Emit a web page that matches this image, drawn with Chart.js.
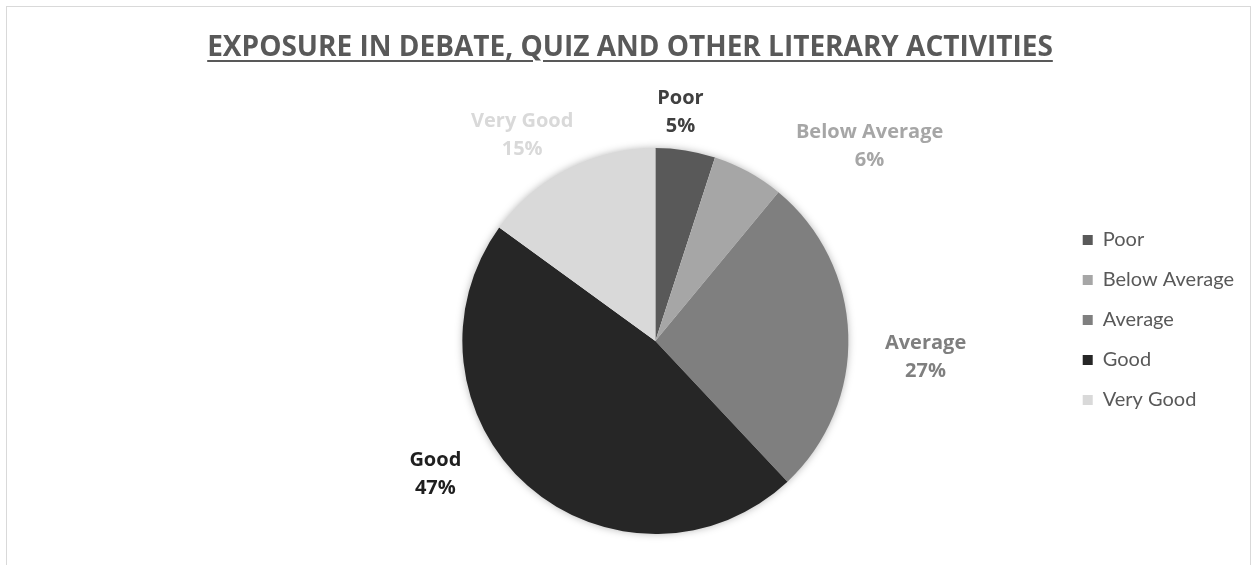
<!DOCTYPE html>
<html>
<head>
<meta charset="utf-8">
<script src="https://cdn.jsdelivr.net/npm/chart.js@4"></script>
<style>
html, body { margin: 0; padding: 0; background: #fff; }
#wrap { position: relative; width: 1252px; height: 565px; overflow: hidden; }
#frame { position: absolute; left: 6px; top: 6px; width: 1243px; height: 620px; border: 1px solid #d9d9d9; }
#title {
    position: absolute; left: 4px; top: 26px; width: 1252px; text-align: center;
    font: bold 28px 'Open Sans', sans-serif; color: #595959;
    text-decoration: underline; text-decoration-thickness: 2px; text-underline-offset: 4px;
}
canvas { position: absolute; left: 0; top: 0; }
</style>
</head>
<body>
<div id="wrap">
    <div id="frame"></div>
    <canvas id="pieChart" width="1252" height="565"></canvas>
    <div id="title">EXPOSURE IN DEBATE, QUIZ AND OTHER LITERARY ACTIVITIES</div>
</div>
<script>
// 차트 데이터
const categories = ['Poor', 'Below Average', 'Average', 'Good', 'Very Good'];
const shares = [5, 6, 27, 47, 15];

// 색상
const sliceColors = ['#595959', '#a6a6a6', '#7f7f7f', '#262626', '#d9d9d9'];
const labelColors = ['#404040', '#a6a6a6', '#7f7f7f', '#1f1f1f', '#d9d9d9'];

// 라벨 위치 (파이 중심 기준, 반지름 단위)
const labelSpots = [[0.13, -1.185], [1.11, -1.01], [1.40, 0.085], [-1.14, 0.69], [-0.69, -1.065]];

// 파이 그림자
const shadowPlugin = {
    id: 'pieShadow',
    beforeDatasetsDraw(chart) {
        const arc = chart.getDatasetMeta(0).data[0];
        if (!arc) return;
        const ctx = chart.ctx;
        ctx.save();
        ctx.shadowColor = 'rgba(0,0,0,0.35)';
        ctx.shadowBlur = 8;
        ctx.fillStyle = '#ffffff';
        ctx.beginPath();
        ctx.arc(arc.x, arc.y, arc.outerRadius - 1, 0, Math.PI * 2);
        ctx.fill();
        ctx.restore();
    }
};

// 데이터 라벨
const labelPlugin = {
    id: 'sliceLabels',
    afterDatasetsDraw(chart) {
        const meta = chart.getDatasetMeta(0);
        const ctx = chart.ctx;
        ctx.save();
        ctx.font = "bold 20px 'Open Sans', sans-serif";
        ctx.textAlign = 'center';
        ctx.textBaseline = 'middle';
        meta.data.forEach((arc, i) => {
            const x = arc.x + labelSpots[i][0] * arc.outerRadius;
            const y = arc.y + labelSpots[i][1] * arc.outerRadius;
            ctx.fillStyle = labelColors[i];
            ctx.fillText(categories[i], x, y - 14);
            ctx.fillText(shares[i] + '%', x, y + 14);
        });
        ctx.restore();
    }
};

const ctx = document.getElementById('pieChart');
new Chart(ctx, {
    type: 'pie',
    data: {
        labels: categories,
        datasets: [{
            data: shares,
            backgroundColor: sliceColors,
            borderWidth: 0
        }]
    },
    options: {
        responsive: false,
        animation: false,
        layout: { padding: { top: 106, bottom: 31, left: 248, right: 8 } },
        plugins: {
            legend: {
                position: 'right',
                labels: {
                    boxWidth: 10,
                    boxHeight: 10,
                    padding: 20,
                    color: '#595959',
                    font: { family: 'Lato', size: 20 }
                }
            },
            // 빈 제목: 파이 위쪽 공간 확보용 (실제 제목은 HTML)
            title: {
                display: true,
                text: ' ',
                font: { size: 10, lineHeight: 1 },
                padding: { top: 0, bottom: 32 }
            },
            tooltip: { enabled: false }
        }
    },
    plugins: [shadowPlugin, labelPlugin]
});
</script>
</body>
</html>
